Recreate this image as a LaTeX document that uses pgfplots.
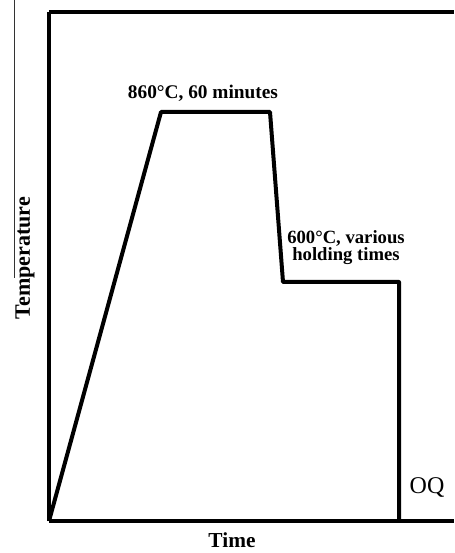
\documentclass[border=0pt]{standalone}
\usepackage{pgfplots}
\pgfplotsset{compat=1.18}
\usepackage{fontspec}
\setmainfont{Liberation Serif}
\begin{document}
\begin{tikzpicture}
\begin{axis}[
  x=0.75pt, y=0.75pt,
  xmin=0, xmax=405, ymin=0, ymax=509,
  axis x line=box, axis y line=left,
  axis line style={-, line width=3pt},
  xtick=\empty, ytick=\empty,
  clip=false,
]
\addplot[black, line width=3pt, line join=round, mark=none] coordinates {
  (0,0) (112,409) (221,409) (234,239) (350,239) (350,0)
};
\node[font=\bfseries\fontsize{14.5}{16}\selectfont] at (axis cs:154,428) {860\textdegree C, 60 minutes};
\node[font=\bfseries\fontsize{14}{12.8}\selectfont, align=center] at (axis cs:297,273) {600\textdegree C, various\\holding times};
\node[font=\fontsize{18}{20}\selectfont] at (axis cs:378,34) {OQ};
\node[font=\bfseries\fontsize{16}{18}\selectfont] at (axis cs:183,-19) {Time};
\node[font=\bfseries\fontsize{16.5}{18}\selectfont, rotate=90] at (axis cs:-24,263) {Temperature};
\draw[line width=0.7pt, black!80] (axis cs:-35,521) -- (axis cs:-35,243);
\coordinate (BL) at (axis cs:-49,-32);
\coordinate (TR) at (axis cs:405,521);
\end{axis}
\pgfresetboundingbox
\useasboundingbox (BL) rectangle (TR);
\end{tikzpicture}
\end{document}
